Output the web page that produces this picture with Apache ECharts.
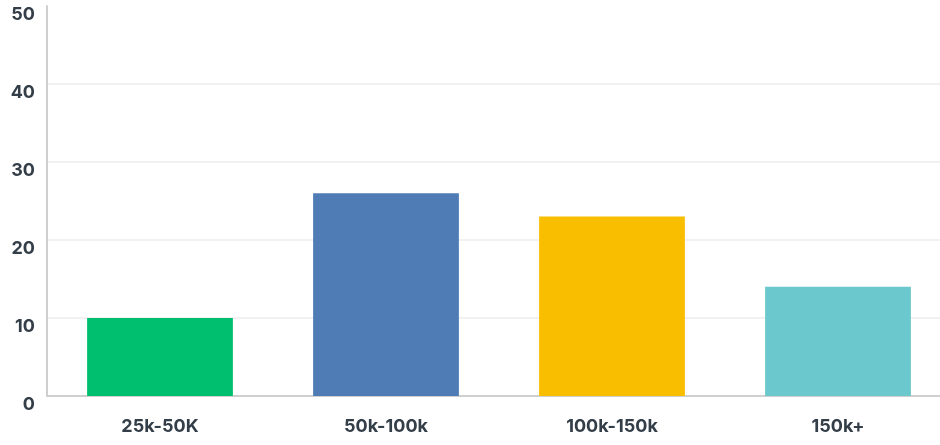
<!DOCTYPE html>
<html><head><meta charset="utf-8">
<script src="https://cdn.jsdelivr.net/npm/echarts@6/dist/echarts.min.js"></script>
<style>html,body{margin:0;padding:0;background:#fff;overflow:hidden}#c{width:940px;height:445px}</style>
</head><body><div id="c"></div>
<script>
const categories = ['25k-50K', '50k-100k', '100k-150k', '150k+'];
const values = [10, 26, 23, 14];
const colors = ['#00BF6F', '#507CB6', '#F9BE00', '#6BC8CD'];
const yTicks = [0, 10, 20, 30, 40, 50];

const chart = echarts.init(document.getElementById('c'));
chart.setOption({
  animation: false,
  grid: { left: 47, width: 904, top: 6, height: 390, outerBoundsMode: 'none', containLabel: false },
  xAxis: {
    type: 'category',
    data: categories,
    axisLine: { lineStyle: { color: '#cfcfcf', width: 2 } },
    axisTick: { show: false },
    axisLabel: { color: '#333e48', fontFamily: 'Inter', fontWeight: 700, fontSize: 18, margin: 22 }
  },
  yAxis: {
    type: 'value',
    min: yTicks[0], max: yTicks[yTicks.length - 1], interval: 10,
    axisLine: { show: true, lineStyle: { color: '#cfcfcf', width: 2 } },
    axisTick: { show: false },
    splitLine: { showMaxLine: false, lineStyle: { color: '#ececec', width: 1.5 } },
    axisLabel: { color: '#333e48', fontFamily: 'Inter', fontWeight: 700, fontSize: 18, margin: 12, verticalAlign: 'top' }
  },
  series: [{
    type: 'bar',
    barWidth: '64.5%',
    data: values.map((v, i) => ({ value: v, itemStyle: { color: colors[i] } }))
  }]
});
</script></body></html>
